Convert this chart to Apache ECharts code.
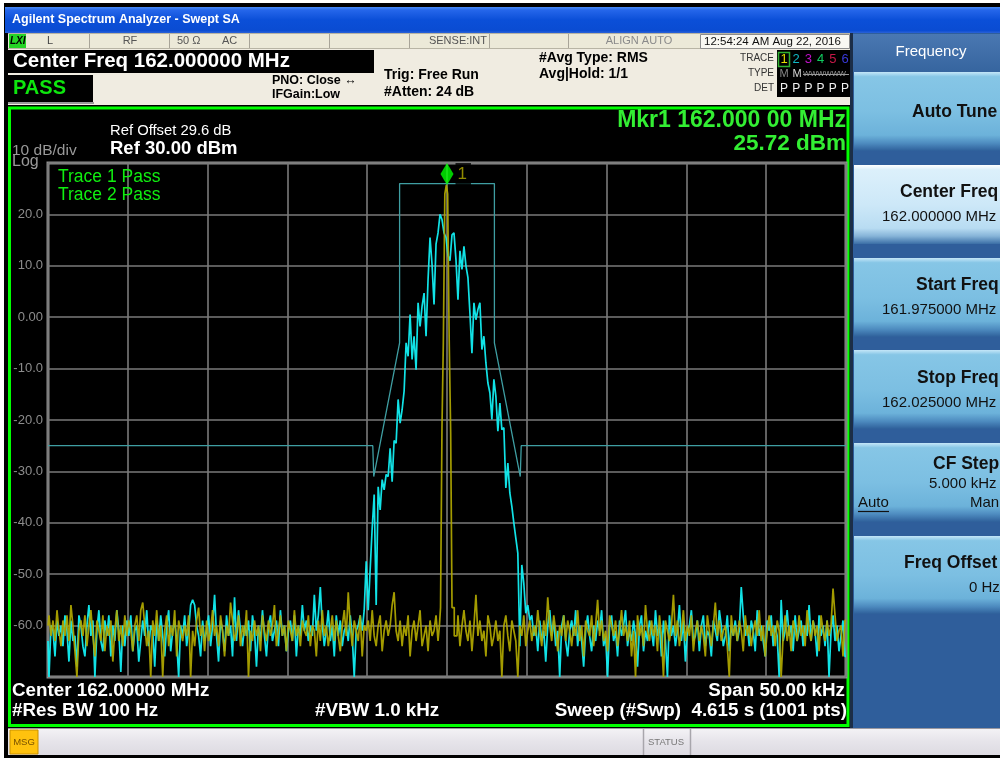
<!DOCTYPE html>
<html><head><meta charset="utf-8">
<script src="https://cdn.jsdelivr.net/npm/echarts@6/dist/echarts.min.js"></script>
<style>html,body{margin:0;padding:0;background:#fff;}#c{width:1000px;height:758px;}</style>
</head><body><div id="c"></div>
<script>
// ---------------- data (frequency offsets in kHz from 162.000 MHz centre, levels in dBm) ----------------
const STEP = 0.125;            // kHz between stored points
const SPAN_START = -25, SPAN_END = 25;
const yTicks = [-70, -60, -50, -40, -30, -20, -10, 0, 10, 20, 30];

// Trace 2 (cyan): noise left of the modulated signal, the signal itself, noise to the right
const trace2Left = [
-63,-70,-60,-61,-66,-59,-62,-60,-64,-58,
-61,-67,-59,-63,-62,-68,-58,-60,-64,-66,
-60,-56,-62,-59,-70,-61,-57,-63,-65,-59,
-62,-58,-66,-60,-63,-57,-61,-69,-60,-64,
-59,-62,-58,-65,-61,-60,-67,-63,-59,-62,
-57,-64,-60,-61,-68,-59,-63,-58,-62,-66,
-60,-57,-65,-61,-59,-63,-70,-60,-62,-58,
-64,-61,-56,-55,-56,-60,-62,-66,-59,-63,
-61,-58,-64,-60,-54,-62,-67,-59,-61,-65,
-58,-62,-60,-66,-54.5,-63,-57,-61,-64,-60,
-62,-59,-65,-58,-61,-68,-60,-63,-57,-62,
-66,-60,-58,-63,-61,-59,-64,-57,-62,-60,
-65,-61,-59,-63,-58,-66,-60,-62,-56,-61,
-59,-63,-60,-62,-54,-61,-58,-52.5,-60,-64,
-61,-57,-63,-60,-66,-58,-62,-59,-64,-61,
-60,-63,-58,-62,-70,-61];
const trace2PeakStart = -5.5;
const trace2Peak = [
-60,-58,-61,-57,-47.5,-57,-49,-41,-34.5,-56,
-33,-37.5,-31.6,-33.6,-30.6,-31,-25.5,-32,-24,-24.5,
-16,-20.6,-18,-14.4,-5,-7.6,0.5,-8.2,-3.7,-10.2,
2.8,-1.8,2.1,4.7,-3.7,7.3,15.5,10.3,2.5,14.2,
16.4,20,19,16.4,15.5,12,11,16,16.4,11.2,
3.4,12.9,9.3,13.8,10,7.7,0.8,-7,2.8,-0.5,
1.5,2.8,-6.3,-3.7,-8.9,-12.8,-14.7,-19.9,-12.1,-15.4,
-22.2,-16.7,-21.9,-21.5,-33.2,-28.4,-34.2,-36.8,-40,-43,
-45.9,-64,-48.2,-51.8,-57.6,-56,-59];
const trace2Right = [
-58,-62,-60,-65,-59,-63,-61,-67,-60,-57,
-62,-59,-64,-61,-70,-60,-58,-63,-66,-61,
-59,-62,-57,-64,-60,-63,-68,-61,-58,-62,
-65,-60,-63,-59,-61,-57,-64,-62,-70,-60,
-58,-63,-61,-66,-59,-62,-60,-57,-64,-61,
-63,-59,-62,-68,-60,-58,-65,-61,-63,-59,
-61,-64,-57,-62,-60,-66,-59,-63,-70,-58,
-62,-60,-64,-61,-56,-63,-59,-67,-61,-60,
-57,-63,-62,-59,-65,-60,-58,-64,-61,-62,
-66,-59,-61,-63,-57,-60,-64,-62,-58,-65,
-60,-62,-59,-63,-61,-52.5,-58,-62,-60,-64,
-59,-61,-65,-57,-62,-60,-63,-66,-59,-61,
-58,-64,-60,-62,-70,-55,-63,-61,-57,-62,
-60,-65,-58,-63,-61,-59,-64,-60,-62,-56,
-63,-59,-61,-66,-58,-62,-60,-64,-59,-70,
-61,-58,-63,-60,-65,-62,-59,-66];

// Trace 1 (yellow): noise and the CW carrier at the centre
const trace1Left = [
-60,-58,-62,-59,-63,-57,-61,-64,-59,-62,
-58,-63,-56,-60,-65,-70,-61,-59,-62,-58,
-64,-60,-57,-62,-66,-59,-61,-63,-58,-65,
-60,-62,-59,-67,-61,-57,-63,-60,-64,-58,
-62,-59,-61,-65,-60,-58,-63,-57,-55.5,-60,
-64,-61,-70,-59,-62,-57,-63,-60,-70,-61,
-58,-64,-60,-62,-57,-66,-59,-61,-63,-60,
-62,-58,-70,-61,-64,-59,-56.5,-62,-60,-65,
-59,-63,-61,-57,-62,-60,-64,-58,-61,-66,
-60,-62,-55.5,-59,-63,-61,-58,-64,-60,-62,
-57,-70,-61,-63,-59,-62,-60,-65,-58,-61,
-63,-59,-62,-60,-56,-64,-61,-58,-62,-60,
-65,-59,-61,-63,-57,-62,-60,-64,-59,-61,
-62,-58,-64,-60,-61,-66,-59,-63,-57,-62,
-60,-64,-61,-58,-63,-59,-62,-65,-60,-57,
-62,-53.5,-60,-64,-59,-61,-63,-58,-66,-60,
-61,-59,-63,-57,-62,-64,-60,-58,-65,-61,
-59,-62,-60,-56,-53.5,-61,-63,-59,-64,-60,
-62,-58,-66,-61,-59,-63,-60,-57,-64,-62,
-60,-65,-59,-62,-61,-58,-63];
const carrierOffsets = [-0.45, -0.36, -0.27, -0.19, -0.08, 0, 0.08, 0.19, 0.27, 0.36, 0.55];
const carrierValues  = [-60, -56.5, -21.5, -5, 24, 25.72, 24, -4, -22.5, -56.5, -62];
const trace1Right = [
-62,-58,-64,-60,-57,-61,-63,-59,-65,-60,
-54,-62,-59,-63,-61,-66,-58,-60,-64,-62,
-59,-63,-61,-70,-60,-58,-62,-65,-59,-61,
-63,-70,-60,-62,-58,-64,-61,-59,-63,-60,
-62,-57,-61,-64,-59,-62,-54.5,-60,-63,-58,
-61,-65,-60,-62,-58,-63,-59,-61,-64,-60,
-62,-57,-63,-60,-66,-59,-61,-62,-58,-64,
-60,-55,-62,-59,-63,-61,-65,-58,-60,-62,
-59,-64,-61,-57,-62,-60,-63,-59,-66,-61,
-70,-58,-62,-60,-64,-56,-61,-63,-59,-62,
-60,-65,-58,-62,-70,-59,-61,-63,-60,-54,
-62,-59,-64,-61,-57,-63,-60,-62,-58,-65,
-61,-59,-63,-60,-62,-66,-58,-61,-64,-60,
-55.5,-62,-59,-63,-61,-60,-64,-70,-58,-62,
-60,-63,-59,-61,-65,-58,-62,-60,-64,-61,
-59,-62,-57,-63,-60,-66,-61,-58,-62,-60,
-64,-59,-61,-70,-62,-58,-63,-60,-65,-59,
-61,-63,-58,-62,-60,-64,-57,-61,-63,-59,
-62,-60,-65,-58,-61,-63,-59,-62,-60,-52.8,
-58,-63,-61,-60,-66,-59];

// Limit line
const limitOffsets = [-25, -4.65, -4.59, -2.97, -2.97, 2.97, 2.97, 4.59, 4.65, 25];
const limitValues  = [-25, -25, -31, -5, 26, 26, -5, -31, -25, -25];

// Marker 1
const markerOffset = 0, markerValue = 25.72;

// ---------------- build series data ----------------
function fromStart(vals, start) { return vals.map((v, j) => [start + j * STEP, v]); }
function fromEnd(vals, end) { const n = vals.length; return vals.map((v, j) => [end - (n - 1 - j) * STEP, v]); }
const byX = (a, b) => a[0] - b[0];
const trace2Data = [...fromStart(trace2Left, SPAN_START), ...fromStart(trace2Peak, trace2PeakStart), ...fromEnd(trace2Right, SPAN_END)].sort(byX);
const trace1Data = [...fromStart(trace1Left, SPAN_START), ...carrierOffsets.map((x, k) => [x, carrierValues[k]]), ...fromEnd(trace1Right, SPAN_END)].sort(byX);
const limitData = limitOffsets.map((x, k) => [x, limitValues[k]]);

// ---------------- chrome helpers ----------------
const FONT = '"Liberation Sans", Arial, sans-serif';
function T(x, y, text, size, o) {
  o = o || {};
  return { type: 'text', x: x, y: y, z: (o.z != null ? o.z : 50), scaleX: o.sx || 1, silent: true,
    style: { text: text, font: (o.italic ? 'italic ' : '') + (o.bold ? 'bold ' : '') + size + 'px ' + FONT, fill: o.color || '#000',
      align: o.align || 'left', verticalAlign: 'middle', textAlign: o.align || 'left', textVerticalAlign: 'middle' } };
}
function R(x, y, w, h, fill, o) {
  o = o || {};
  return { type: 'rect', z: (o.z != null ? o.z : -20), silent: true, shape: { x: x, y: y, width: w, height: h },
    style: { fill: fill, stroke: o.stroke || null, lineWidth: o.lw || 0 } };
}
function Ln(x1, y1, x2, y2, color, w, z) {
  return { type: 'line', z: (z != null ? z : -15), silent: true, shape: { x1: x1, y1: y1, x2: x2, y2: y2 }, style: { stroke: color, lineWidth: w || 1 } };
}
function grad(stops) { return { type: 'linear', x: 0, y: 0, x2: 0, y2: 1, colorStops: stops.map(s => ({ offset: s[0], color: s[1] })) }; }

const g = [];
// window frame
g.push(R(4, 3, 996, 755, '#000', { z: -30 }));
g.push(R(5, 7, 995, 26, grad([[0, '#4a8cf7'], [0.12, '#2566ea'], [0.5, '#0b4fd8'], [0.9, '#0a4cd2'], [1, '#2a62d8']]), { z: -25 }));
g.push(T(12, 20, 'Agilent Spectrum Analyzer - Swept SA', 12.5, { bold: true, color: '#fff' }));
// status row
g.push(R(8, 33, 842, 16, '#ece9d8', { z: -25 }));
g.push(Ln(8, 33.5, 850, 33.5, '#b8b4a4', 1));
g.push(Ln(8, 48.5, 850, 48.5, '#b8b4a4', 1));
[89, 169, 249, 329, 409, 489, 568].forEach(x => g.push(Ln(x + 0.5, 34, x + 0.5, 48, '#a8a498', 1)));
g.push(R(9, 34, 17, 14, '#26d426', { z: -14 }));
g.push(T(10, 41, 'LXI', 10, { bold: true, italic: true, color: '#000' }));
g.push(T(50, 41, 'L', 11, { color: '#444', align: 'center' }));
g.push(T(130, 41, 'RF', 11, { color: '#555', align: 'center' }));
g.push(T(177, 41, '50 Ω', 11, { color: '#555' }));
g.push(T(222, 41, 'AC', 11, { color: '#555' }));
g.push(T(487, 41, 'SENSE:INT', 11, { color: '#555', align: 'right' }));
g.push(T(639, 41, 'ALIGN AUTO', 11, { color: '#8a8a8a', align: 'center' }));
g.push(R(700.5, 34.5, 149, 14, '#f9f8f2', { z: -14, stroke: '#8c8c8c', lw: 1 }));
g.push(T(704, 41.5, '12:54:24 AM Aug 22, 2016', 11.5, { color: '#111' }));
// header
g.push(R(8, 49, 842, 56, '#f0ece1', { z: -25 }));
g.push(R(8, 50, 366, 23, '#000', { z: -14 }));
g.push(T(13, 61.5, 'Center Freq 162.000000 MHz', 20.5, { bold: true, color: '#fff' }));
g.push(R(8, 75, 85, 27, '#000', { z: -14 }));
g.push(Ln(8, 103, 94, 103, '#9a9a9a', 2));
g.push(T(13, 88, 'PASS', 20, { bold: true, color: '#0ee60e' }));
g.push(T(272, 81, 'PNO: Close ↔', 12.5, { bold: true }));
g.push(T(272, 95, 'IFGain:Low', 12.5, { bold: true }));
g.push(T(384, 75, 'Trig: Free Run', 14, { bold: true }));
g.push(T(384, 92, '#Atten: 24 dB', 14, { bold: true }));
g.push(T(539, 58, '#Avg Type: RMS', 14, { bold: true }));
g.push(T(539, 74.5, 'Avg|Hold: 1/1', 14, { bold: true }));
g.push(T(774, 58, 'TRACE', 10, { color: '#333', align: 'right' }));
g.push(T(774, 73, 'TYPE', 10, { color: '#333', align: 'right' }));
g.push(T(774, 88, 'DET', 10, { color: '#333', align: 'right' }));
g.push(R(777, 50, 73, 47, '#000', { z: -14 }));
g.push(R(778.5, 52.5, 11, 14, 'none', { z: -10, stroke: '#30b030', lw: 1.5 }));
const trColors = ['#e4dc00', '#10b8c4', '#c010c8', '#10cc60', '#c81848', '#3838d8'];
trColors.forEach((c, k) => {
  const cx = 784 + k * 12.2;
  g.push(T(cx, 59.5, String(k + 1), 13, { color: c, align: 'center' }));
  g.push(T(cx, 88.5, 'P', 12, { color: '#f0f0f0', align: 'center' }));
});
g.push(T(784, 74, 'M', 11, { color: '#888', align: 'center' }));
g.push(T(797, 74, 'M', 11, { color: '#d8d8d8', align: 'center' }));
g.push(T(803, 74, 'WWWWWW', 7.6, { color: '#9a9a9a' }));
g.push(Ln(803, 74.5, 849, 74.5, '#9a9a9a', 1, 60));
// right soft-key panel
g.push(R(850, 33, 150, 695, '#2f5e9b', { z: -25 }));
g.push(Ln(851.5, 33, 851.5, 728, '#1c2e48', 3, -24));
g.push(R(853, 34, 147, 38, grad([[0, '#4a78b2'], [1, '#36659f']]), { z: -22 }));
g.push(T(931, 52, 'Frequency', 15, { color: '#fff', align: 'center' }));
function button(y1, y2, light) {
  const stops = light
    ? [[0, '#ffffff'], [0.06, '#dcf0fb'], [0.5, '#cde8f8'], [0.8, '#b8dcf2'], [0.9, '#86b4d8'], [1, '#3a6ea6']]
    : [[0, '#c4e6f8'], [0.06, '#86c6e6'], [0.5, '#7cbfe2'], [0.8, '#6cb2da'], [0.9, '#4e8cc0'], [1, '#2e5f9a']];
  g.push(R(854, y1, 146, y2 - y1, grad(stops), { z: -20 }));
}
button(72, 151, false);
button(165, 244, true);
button(258, 337, false);
button(350, 429, false);
button(443, 522, false);
button(536, 614, false);
g.push(T(912, 112.5, 'Auto Tune', 17.5, { bold: true, color: '#111' }));
g.push(T(900, 192.5, 'Center Freq', 17.5, { bold: true, color: '#111' }));
g.push(T(882, 217, '162.000000 MHz', 15, { color: '#111' }));
g.push(T(916, 285, 'Start Freq', 17.5, { bold: true, color: '#111' }));
g.push(T(882, 310, '161.975000 MHz', 15, { color: '#111' }));
g.push(T(917, 378, 'Stop Freq', 17.5, { bold: true, color: '#111' }));
g.push(T(882, 403, '162.025000 MHz', 15, { color: '#111' }));
g.push(T(933, 464, 'CF Step', 17.5, { bold: true, color: '#111' }));
g.push(T(929, 483.5, '5.000 kHz', 15, { color: '#111' }));
g.push(T(858, 503, 'Auto', 15, { color: '#111' }));
g.push(Ln(858, 511.5, 889, 511.5, '#111', 1.2, 60));
g.push(T(970, 503, 'Man', 15, { color: '#111' }));
g.push(T(904, 563, 'Freq Offset', 17.5, { bold: true, color: '#111' }));
g.push(T(969, 588, '0 Hz', 15, { color: '#111' }));
// bottom message bar
g.push(R(8, 728, 992, 27, grad([[0, '#f4f3f6'], [0.5, '#e6e4ea'], [1, '#dddbe2']]), { z: -25 }));
g.push(Ln(8, 728.5, 1000, 728.5, '#9a98a0', 1));
g.push(R(10, 730, 28, 24, '#ffc20e', { z: -14, stroke: '#c89000', lw: 1 }));
g.push(T(24, 742, 'MSG', 9.5, { color: '#7a5200', align: 'center' }));
g.push(Ln(643.5, 729, 643.5, 755, '#a8a6ac', 1.5));
g.push(Ln(690.5, 729, 690.5, 755, '#a8a6ac', 1.5));
g.push(T(666, 742, 'STATUS', 9.5, { color: '#777', align: 'center' }));
// measurement display
g.push(R(8, 105, 842, 623, '#000', { z: -25 }));
g.push(R(9.5, 108, 838.5, 617.5, 'none', { z: -5, stroke: '#00ff00', lw: 3 }));
g.push(T(110, 131, 'Ref Offset 29.6 dB', 14.8, { color: '#fff' }));
g.push(T(110, 149, 'Ref 30.00 dBm', 18.5, { bold: true, color: '#fff' }));
g.push(T(12, 150.5, '10 dB/div', 15.5, { color: '#999' }));
g.push(T(12, 162, 'Log', 16, { color: '#999' }));
g.push(T(846, 121, 'Mkr1 162.000 00 MHz', 23, { bold: true, color: '#33ee33', align: 'right' }));
g.push(T(846, 143.5, '25.72 dBm', 22.5, { bold: true, color: '#33ee33', align: 'right' }));
g.push(T(58, 177, 'Trace 1 Pass', 17.5, { color: '#10ee10' }));
g.push(T(58, 195.5, 'Trace 2 Pass', 17.5, { color: '#10ee10' }));
g.push(T(12, 690.5, 'Center 162.00000 MHz', 18.8, { bold: true, color: '#fff' }));
g.push(T(12, 711, '#Res BW 100 Hz', 18.8, { bold: true, color: '#fff' }));
g.push(T(315, 711, '#VBW 1.0 kHz', 18.8, { bold: true, color: '#fff' }));
g.push(T(845, 690.5, 'Span 50.00 kHz', 18.8, { bold: true, color: '#fff', align: 'right' }));
g.push(T(847, 711, 'Sweep (#Swp)  4.615 s (1001 pts)', 18.8, { bold: true, color: '#fff', align: 'right' }));

// ---------------- chart ----------------
const chart = echarts.init(document.getElementById('c'), null, { renderer: 'canvas', width: 1000, height: 758 });
chart.setOption({
  backgroundColor: '#ffffff',
  animation: false,
  graphic: { elements: g },
  grid: { left: 48, right: 154, top: 163, bottom: 81, show: true, borderColor: '#8e8e8e', borderWidth: 3, backgroundColor: 'transparent', containLabel: false },
  xAxis: {
    type: 'value', min: SPAN_START, max: SPAN_END, interval: 5,
    axisLine: { show: false }, axisTick: { show: false }, axisLabel: { show: false },
    splitLine: { show: true, lineStyle: { color: '#7a7a7a', width: 1.6 } }
  },
  yAxis: {
    type: 'value', min: yTicks[0], max: yTicks[yTicks.length - 1], interval: 10,
    axisLine: { show: false }, axisTick: { show: false },
    axisLabel: { color: '#8c8c8c', fontSize: 13, fontFamily: FONT, margin: 5,
      formatter: v => (v === yTicks[0] || v === yTicks[yTicks.length - 1]) ? '' : (v === 0 ? '0.00' : v.toFixed(1)) },
    splitLine: { show: true, lineStyle: { color: '#7a7a7a', width: 1.6 } }
  },
  series: [
    { name: 'Limit', type: 'line', data: limitData, showSymbol: false, z: 3, silent: true,
      lineStyle: { color: '#3f9ea2', width: 1.3 } },
    { name: 'Trace 2', type: 'line', data: trace2Data, showSymbol: false, step: 'middle', z: 4, silent: true,
      lineStyle: { color: '#12eef2', width: 1.7, opacity: 0.95 } },
    { name: 'Trace 1', type: 'line', data: trace1Data, showSymbol: false, step: 'middle', z: 5, silent: true,
      lineStyle: { color: '#b1a800', width: 1.7, opacity: 0.92 } },
    { name: 'Marker 1', type: 'scatter', data: [[markerOffset, markerValue]], z: 10, silent: true,
      symbol: 'diamond', symbolSize: [13, 22], symbolOffset: [0, -11],
      itemStyle: { color: '#00ff00' },
      label: { show: true, formatter: '1', position: 'right', distance: 2, color: '#b5ae00', fontSize: 17, fontFamily: FONT,
        backgroundColor: '#000', padding: [3, 4, 2, 2] } }
  ]
});
</script></body></html>
